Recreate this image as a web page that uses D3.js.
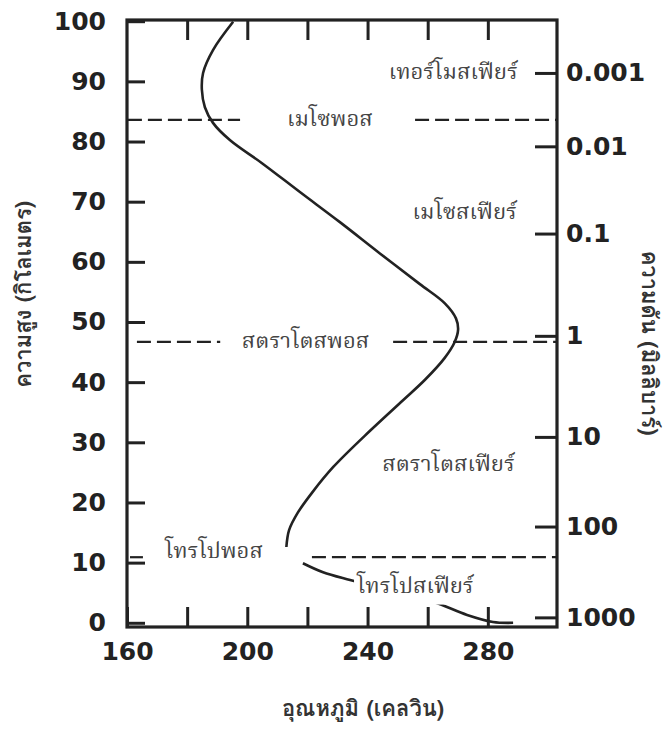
<!DOCTYPE html>
<html>
<head>
<meta charset="utf-8">
<script src="https://cdn.jsdelivr.net/npm/d3@7"></script>
<style>
  html, body { margin: 0; padding: 0; background: #fff; }
  svg { display: block; }
  .num { font-family: "DejaVu Sans", sans-serif; font-weight: bold; font-size: 25px; fill: #222; }
  .thai { font-family: "Norasi", "Kinnari", "Laksaman", "TH Sarabun New", "Noto Serif Thai", "Noto Sans Thai", serif; font-size: 22px; fill: #444; }
  .title { font-family: "Loma", "Garuda", "Tahoma", "Noto Sans Thai", sans-serif; font-size: 22px; font-weight: bold; fill: #333; }
</style>
</head>
<body>
<svg id="chart" width="667" height="740"></svg>
<script>
// Temperature profile of the atmosphere (altitude in km, temperature in K)
const upperAlt  = [99.9, 95.2, 91.4, 88.6, 85.7, 83.1, 80.2, 76.4, 71.6, 66.6, 61.4, 56.3, 53.1, 50.6, 48.7, 46.6, 44.0, 40.4, 37.0, 32.0, 25.9, 21.6, 18.3, 15.4, 12.6];
const upperTemp = [195.3, 188.6, 185.3, 184.9, 185.9, 188.6, 194.3, 204.9, 217.5, 230.8, 244.1, 257.4, 265.7, 269.4, 270.1, 268.9, 265.6, 259.1, 251.8, 241.0, 228.6, 221.5, 216.8, 213.9, 213.0];
const lowerAlt  = [9.9, 8.4, 7.1, 5.3, 3.5, 1.3, 0.13, 0.0];
const lowerTemp = [218.5, 225.2, 234.2, 248.0, 261.8, 273.1, 281.7, 288.4];

// Axis ticks
const altTicks = [0, 10, 20, 30, 40, 50, 60, 70, 80, 90, 100];
const tempTicks = [160, 180, 200, 220, 240, 260, 280];
const tempLabels = [160, 200, 240, 280];
const pressureLabels = ["0.001", "0.01", "0.1", "1", "10", "100", "1000"];
const pressureAlt = [91.4, 79.2, 64.7, 47.7, 30.9, 16.0, 0.9];

// Layer boundaries (km) and layer names
const boundaryAlt = [83.6, 46.7, 10.9];
const pauseNames = ["เมโซพอส", "สตราโตสพอส", "โทรโปพอส"];
const sphereNames = ["เทอร์โมสเฟียร์", "เมโซสเฟียร์", "สตราโตสเฟียร์", "โทรโปสเฟียร์"];

const svg = d3.select("#chart");
const x = d3.scaleLinear().domain([160, 303]).range([127, 557]);
const y = d3.scaleLinear().domain([-0.7, 100.2]).range([627, 20]);

const ink = "#222";

// Left axis (altitude)
const gL = svg.append("g").attr("transform", `translate(${x(160)},0)`)
  .call(d3.axisLeft(y).tickValues(altTicks).tickSizeInner(-18).tickSizeOuter(0).tickPadding(21));
// Bottom axis (temperature)
const gB = svg.append("g").attr("transform", `translate(0,${y(-0.7)})`)
  .call(d3.axisBottom(x).tickValues(tempTicks).tickSizeInner(-20).tickSizeOuter(0).tickPadding(19)
    .tickFormat(d => tempLabels.includes(d) ? d : ""));
// Top axis (ticks only)
const gT = svg.append("g").attr("transform", `translate(0,${y(100.2)})`)
  .call(d3.axisTop(x).tickValues(tempTicks.slice(1)).tickSizeInner(-20).tickSizeOuter(0).tickFormat(""));
// Right axis (pressure)
const gR = svg.append("g").attr("transform", `translate(${x(303)},0)`)
  .call(d3.axisRight(y).tickValues(pressureAlt).tickSizeInner(-22).tickSizeOuter(0).tickPadding(9)
    .tickFormat((d, i) => pressureLabels[i]));

[gL, gB, gT, gR].forEach(g => {
  g.select(".domain").remove();
  g.selectAll(".tick line").attr("stroke", ink).attr("stroke-width", 3);
  g.selectAll(".tick text").attr("class", "num").attr("fill", ink);
});
gB.selectAll(".tick text").attr("dy", "0.55em");

// Frame
svg.append("rect")
  .attr("x", x(160)).attr("y", y(100.2))
  .attr("width", x(303) - x(160)).attr("height", y(-0.7) - y(100.2))
  .attr("fill", "none").attr("stroke", ink).attr("stroke-width", 3.2);

// Boundary dashed lines: pieces either side of the labels
const dashPieces = [
  [[160.3, 197.6], [255.8, 303]],
  [[163.3, 191], [248.5, 303]],
  [[161, 165.3], [221.5, 303]]
];
boundaryAlt.forEach((a, i) => {
  dashPieces[i].forEach(p => {
    svg.append("line")
      .attr("x1", x(p[0])).attr("x2", x(p[1]))
      .attr("y1", y(a)).attr("y2", y(a))
      .attr("stroke", ink).attr("stroke-width", 2.2)
      .attr("stroke-dasharray", "14 6");
  });
});

// Temperature curve
const line = d3.line().x(d => x(d[1])).y(d => y(d[0])).curve(d3.curveCatmullRom.alpha(0.5));
svg.append("path")
  .datum(d3.zip(upperAlt, upperTemp))
  .attr("d", line).attr("fill", "none").attr("stroke", ink).attr("stroke-width", 2.6);
svg.append("path")
  .datum(d3.zip(lowerAlt, lowerTemp))
  .attr("d", line).attr("fill", "none").attr("stroke", ink).attr("stroke-width", 2.6);

// Layer labels
function label(txt, px, py, anchor, knockout) {
  const t = svg.append("text").attr("class", "thai")
    .attr("x", px).attr("y", py).attr("text-anchor", anchor)
    .attr("dominant-baseline", "middle").text(txt);
  if (knockout) {
    const b = t.node().getBBox();
    svg.insert("rect", () => t.node())
      .attr("x", b.x - 2).attr("y", b.y + 2).attr("width", b.width + 4).attr("height", b.height - 2)
      .attr("fill", "#fff");
  }
  return t;
}
label(pauseNames[0], x(213.2), y(boundaryAlt[0]), "start");
label(pauseNames[1], x(198.2), y(boundaryAlt[1]), "start");
label(pauseNames[2], x(172.6), y(boundaryAlt[2]) - 5, "start");
label(sphereNames[0], x(290.0), y(pressureAlt[0]), "end");
label(sphereNames[1], x(289.7), y(68.1), "end");
label(sphereNames[2], x(289.0), y(26.2), "end");
label(sphereNames[3], x(236.5), y(6), "start", true);

// Axis titles
svg.append("text").attr("class", "title")
  .attr("transform", `translate(25,${y(54.6)}) rotate(-90)`)
  .attr("text-anchor", "middle").attr("dominant-baseline", "middle")
  .text("ความสูง (กิโลเมตร)");
svg.append("text").attr("class", "title")
  .attr("transform", `translate(648,${y(46.5)}) rotate(90)`)
  .attr("text-anchor", "middle").attr("dominant-baseline", "middle")
  .text("ความดัน (มิลลิบาร์)");
svg.append("text").attr("class", "title")
  .attr("x", 363).attr("y", 710)
  .attr("text-anchor", "middle").attr("dominant-baseline", "middle")
  .text("อุณหภูมิ (เคลวิน)");
</script>
</body>
</html>
